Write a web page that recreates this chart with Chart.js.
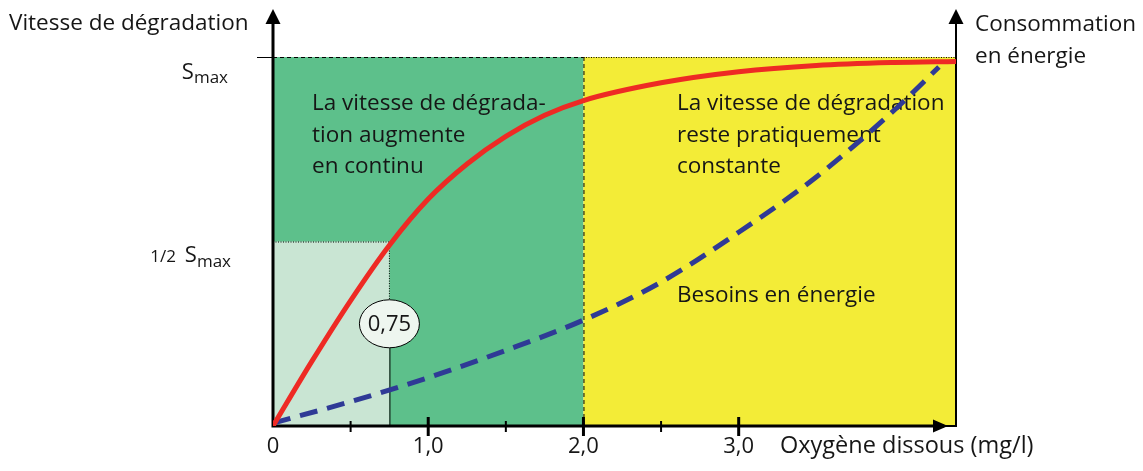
<!DOCTYPE html>
<html>
<head>
<meta charset="utf-8">
<script src="https://cdn.jsdelivr.net/npm/chart.js@4.4.0/dist/chart.umd.min.js"></script>
<style>
  html, body { margin: 0; padding: 0; background: #fff; }
  #wrap { width: 1143px; height: 471px; }
</style>
</head>
<body>
<div id="wrap"><canvas id="oxyChart" width="1143" height="471"></canvas></div>
<script>
// values (x: mg/l, y: fraction of Smax)
const redX = [0, 0.25, 0.5, 0.75, 1.0, 1.25, 1.5, 1.75, 2.0, 2.5, 3.0, 3.5, 4.0, 4.4];
const redY = [0, 0.175, 0.34, 0.49, 0.615, 0.71, 0.785, 0.842, 0.882, 0.93, 0.96, 0.977, 0.985, 0.988];
const blueX = [0, 0.5, 1.0, 1.5, 2.0, 2.5, 3.0, 3.5, 4.0, 4.29];
const blueY = [0.008, 0.066, 0.131, 0.205, 0.287, 0.39, 0.525, 0.675, 0.855, 0.973];

const xTicks = [0, 1, 2, 3];
const xTickLabels = ['0', '1,0', '2,0', '3,0'];
const xMinorTicks = [0.5, 1.5, 2.5];
const xMax = 4.4;
const zoneSplit = 2.0;
const halfX = 0.75;
const halfY = 0.5;
const halfLabel = '0,75';

const FONT = '"Open Sans", "Noto Sans", sans-serif';
const W = '500 ';
const INK = '#161616';

const toPoints = (xs, ys) => xs.map((x, i) => ({ x: x, y: ys[i] }));

function arrowUp(ctx, x, yTip) {
    ctx.beginPath();
    ctx.moveTo(x, yTip);
    ctx.lineTo(x - 7.5, yTip + 15);
    ctx.lineTo(x + 7.5, yTip + 15);
    ctx.closePath();
    ctx.fill();
}

const decor = {
    id: 'decor',
    beforeDatasetsDraw(chart) {
        const ctx = chart.ctx;
        const xs = chart.scales.x, ys = chart.scales.y;
        const x0 = xs.getPixelForValue(0), xS = xs.getPixelForValue(zoneSplit), xE = xs.getPixelForValue(xMax);
        const y0 = ys.getPixelForValue(0), yT = ys.getPixelForValue(1), yH = ys.getPixelForValue(halfY);
        const xH = xs.getPixelForValue(halfX);
        ctx.save();

        // zones
        ctx.fillStyle = '#5dc08b';
        ctx.fillRect(x0, yT, xS - x0, y0 - yT);
        ctx.fillStyle = '#f3ec37';
        ctx.fillRect(xS, yT, xE - xS, y0 - yT);
        ctx.fillStyle = '#c9e5d3';
        ctx.fillRect(x0, yH, xH - x0, y0 - yH);

        // dividers
        ctx.strokeStyle = '#000';
        ctx.lineWidth = 1;
        ctx.setLineDash([4, 3]);
        ctx.beginPath();
        ctx.moveTo(xS + 0.5, yT); ctx.lineTo(xS + 0.5, y0);
        ctx.moveTo(x0, yT + 0.5); ctx.lineTo(xS, yT + 0.5);
        ctx.stroke();
        ctx.setLineDash([1, 1.5]);
        ctx.beginPath();
        ctx.moveTo(xS, yT + 0.5); ctx.lineTo(xE, yT + 0.5);
        ctx.moveTo(x0, yH + 0.5); ctx.lineTo(xH, yH + 0.5);
        ctx.lineTo(xH, ys.getPixelForValue(0.32));
        ctx.stroke();
        ctx.setLineDash([]);

        // 0,75 marker
        const yEll = ys.getPixelForValue(0.277);
        ctx.beginPath();
        ctx.moveTo(xH + 0.5, yEll + 24); ctx.lineTo(xH + 0.5, y0);
        ctx.stroke();
        ctx.beginPath();
        ctx.ellipse(xH, yEll, 30, 24, 0, 0, Math.PI * 2);
        ctx.fillStyle = '#eef6ef';
        ctx.fill();
        ctx.stroke();
        ctx.fillStyle = INK;
        ctx.font = W + '22px ' + FONT;
        ctx.textAlign = 'center';
        ctx.textBaseline = 'middle';
        ctx.fillText(halfLabel, xH, yEll + 1);

        // zone captions
        ctx.textAlign = 'left';
        ctx.textBaseline = 'alphabetic';
        ctx.font = W + '22.5px ' + FONT;
        ['La vitesse de dégrada-', 'tion augmente', 'en continu'].forEach((t, i) => ctx.fillText(t, 312, 110 + i * 31.5));
        ['La vitesse de dégradation', 'reste pratiquement', 'constante'].forEach((t, i) => ctx.fillText(t, 677, 110 + i * 31.5));
        ctx.fillText('Besoins en énergie', 677, 302);

        // axes
        ctx.fillStyle = '#000';
        ctx.lineWidth = 3;
        ctx.beginPath();
        ctx.moveTo(x0, y0); ctx.lineTo(x0, 20);
        ctx.moveTo(x0 - 1.5, y0); ctx.lineTo(xE - 12, y0);
        ctx.stroke();
        ctx.lineWidth = 2;
        ctx.beginPath();
        ctx.moveTo(xE - 12, y0); ctx.lineTo(xE, y0);
        ctx.moveTo(xE, y0 + 1); ctx.lineTo(xE, 20);
        ctx.stroke();
        arrowUp(ctx, x0, 9);
        arrowUp(ctx, xE, 9);
        ctx.beginPath();
        ctx.moveTo(xE - 8, y0);
        ctx.lineTo(xE - 23, y0 - 6.5);
        ctx.lineTo(xE - 23, y0 + 6.5);
        ctx.closePath();
        ctx.fill();

        // Smax tick
        ctx.lineWidth = 1;
        ctx.beginPath();
        ctx.moveTo(x0 - 16, yT + 0.5); ctx.lineTo(x0, yT + 0.5);
        ctx.stroke();

        // x ticks
        ctx.lineWidth = 3;
        xTicks.slice(1).forEach(v => {
            const px = xs.getPixelForValue(v);
            ctx.beginPath(); ctx.moveTo(px, y0 - 9); ctx.lineTo(px, y0 + 10); ctx.stroke();
        });
        ctx.lineWidth = 2;
        xMinorTicks.forEach(v => {
            const px = xs.getPixelForValue(v);
            ctx.beginPath(); ctx.moveTo(px, y0 - 5); ctx.lineTo(px, y0 + 6); ctx.stroke();
        });
        ctx.restore();
    },
    afterDraw(chart) {
        const ctx = chart.ctx;
        const xs = chart.scales.x, ys = chart.scales.y;
        const y0 = ys.getPixelForValue(0);
        ctx.save();
        ctx.fillStyle = INK;
        ctx.font = W + '22px ' + FONT;
        ctx.textBaseline = 'alphabetic';
        ctx.textAlign = 'center';
        xTicks.forEach((v, i) => ctx.fillText(xTickLabels[i], xs.getPixelForValue(v), y0 + 27));
        ctx.textAlign = 'left';
        ctx.font = W + '23.5px ' + FONT;
        ctx.fillText('Oxygène dissous (mg/l)', 780, y0 + 27);
        ctx.font = W + '22.5px ' + FONT;
        ctx.fillText('Vitesse de dégradation', 9, 30);
        ctx.fillText('Consommation', 975, 31);
        ctx.fillText('en énergie', 975, 63);

        // y labels: S with subscript
        const yT = ys.getPixelForValue(1), yH = ys.getPixelForValue(halfY);
        ctx.textAlign = 'right';
        ctx.font = W + '17px ' + FONT;
        ctx.fillText('max', 228, yT + 26);
        const mw = ctx.measureText('max').width;
        ctx.font = W + '22px ' + FONT;
        ctx.fillText('S', 228 - mw, yT + 22);

        ctx.font = W + '17px ' + FONT;
        ctx.fillText('max', 231, yH + 25);
        ctx.font = W + '22px ' + FONT;
        const sw = ctx.measureText('S').width;
        ctx.fillText('S', 231 - mw, yH + 20);
        ctx.font = W + '17px ' + FONT;
        ctx.fillText('1/2', 231 - mw - sw - 9, yH + 20);
        ctx.restore();
    }
};

const ctx = document.getElementById('oxyChart').getContext('2d');
new Chart(ctx, {
    type: 'line',
    data: {
        datasets: [
            {
                label: 'Vitesse de dégradation',
                data: toPoints(redX, redY),
                borderColor: '#ee2a24',
                borderWidth: 5,
                pointRadius: 0,
                cubicInterpolationMode: 'monotone',
                fill: false
            },
            {
                label: 'Besoins en énergie',
                data: toPoints(blueX, blueY),
                borderColor: '#2f3a96',
                borderWidth: 5,
                borderDash: [18, 10],
                pointRadius: 0,
                cubicInterpolationMode: 'monotone',
                fill: false
            }
        ]
    },
    options: {
        responsive: false,
        animation: false,
        layout: { padding: { left: 273, right: 187, top: 57, bottom: 45 } },
        plugins: { legend: { display: false }, tooltip: { enabled: false } },
        scales: {
            x: { type: 'linear', min: 0, max: xMax, display: false },
            y: { type: 'linear', min: 0, max: 1, display: false }
        }
    },
    plugins: [decor]
});
</script>
</body>
</html>
